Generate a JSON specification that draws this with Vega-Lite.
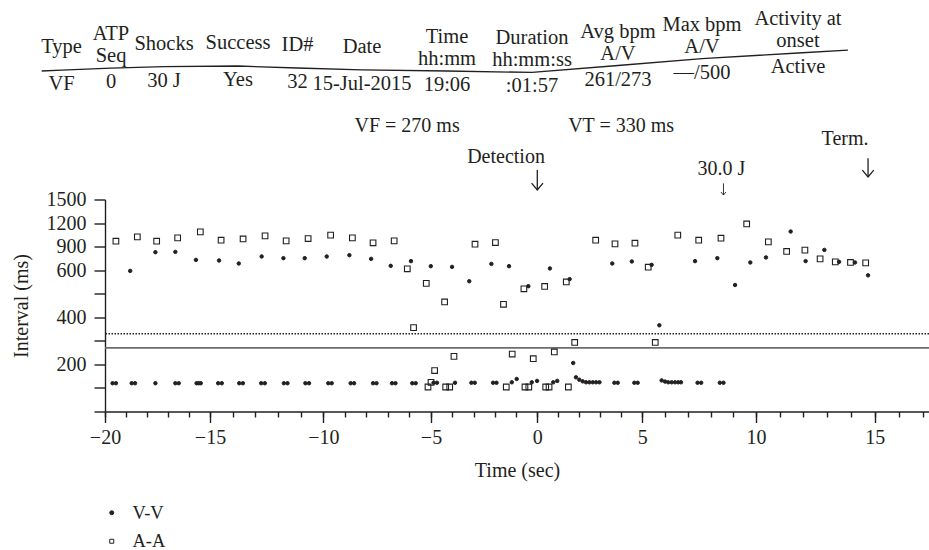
{
  "$schema": "https://vega.github.io/schema/vega-lite/v6.json",
  "width": 824,
  "height": 212,
  "autosize": {"type": "none"},
  "padding": {"left": 105, "top": 199.5, "right": 0, "bottom": 138.5},
  "background": "white",
  "datasets": {
    "intervals": [
      {"t": -19.48, "ms": 969, "series": "A-A"}, {"t": -18.46, "ms": 1024, "series": "A-A"}, {"t": -17.54, "ms": 969, "series": "A-A"},
      {"t": -16.54, "ms": 1011, "series": "A-A"}, {"t": -15.46, "ms": 1088, "series": "A-A"}, {"t": -14.51, "ms": 982, "series": "A-A"},
      {"t": -13.54, "ms": 998, "series": "A-A"}, {"t": -12.57, "ms": 1037, "series": "A-A"}, {"t": -11.64, "ms": 973, "series": "A-A"},
      {"t": -10.67, "ms": 1003, "series": "A-A"}, {"t": -9.66, "ms": 1046, "series": "A-A"}, {"t": -8.65, "ms": 1011, "series": "A-A"},
      {"t": -7.69, "ms": 948, "series": "A-A"}, {"t": -6.71, "ms": 973, "series": "A-A"}, {"t": -6.10, "ms": 617, "series": "A-A"},
      {"t": -5.81, "ms": 356, "series": "A-A"}, {"t": -5.22, "ms": 544, "series": "A-A"}, {"t": -4.36, "ms": 465, "series": "A-A"},
      {"t": -2.93, "ms": 931, "series": "A-A"}, {"t": -1.97, "ms": 952, "series": "A-A"}, {"t": -1.59, "ms": 455, "series": "A-A"},
      {"t": -0.63, "ms": 521, "series": "A-A"}, {"t": 0.35, "ms": 531, "series": "A-A"}, {"t": 1.38, "ms": 550, "series": "A-A"},
      {"t": 2.78, "ms": 982, "series": "A-A"}, {"t": 3.70, "ms": 935, "series": "A-A"}, {"t": 4.65, "ms": 944, "series": "A-A"},
      {"t": 5.26, "ms": 638, "series": "A-A"}, {"t": 5.57, "ms": 293, "series": "A-A"}, {"t": 6.56, "ms": 1046, "series": "A-A"},
      {"t": 7.48, "ms": 982, "series": "A-A"}, {"t": 8.46, "ms": 1007, "series": "A-A"}, {"t": 9.59, "ms": 1189, "series": "A-A"},
      {"t": 10.52, "ms": 960, "series": "A-A"}, {"t": 11.29, "ms": 838, "series": "A-A"}, {"t": 12.06, "ms": 855, "series": "A-A"},
      {"t": 12.70, "ms": 744, "series": "A-A"}, {"t": 13.34, "ms": 706, "series": "A-A"}, {"t": 13.98, "ms": 698, "series": "A-A"},
      {"t": 14.62, "ms": 693, "series": "A-A"},
      {"t": -5.14, "ms": 104, "series": "A-A"}, {"t": -5.00, "ms": 124, "series": "A-A"}, {"t": -4.83, "ms": 174, "series": "A-A"},
      {"t": -4.31, "ms": 104, "series": "A-A"}, {"t": -4.12, "ms": 104, "series": "A-A"}, {"t": -3.92, "ms": 234, "series": "A-A"},
      {"t": -1.46, "ms": 104, "series": "A-A"}, {"t": -1.18, "ms": 244, "series": "A-A"}, {"t": -0.58, "ms": 104, "series": "A-A"},
      {"t": -0.40, "ms": 104, "series": "A-A"}, {"t": -0.19, "ms": 224, "series": "A-A"}, {"t": 0.40, "ms": 104, "series": "A-A"},
      {"t": 0.56, "ms": 104, "series": "A-A"}, {"t": 0.81, "ms": 253, "series": "A-A"}, {"t": 1.48, "ms": 104, "series": "A-A"},
      {"t": 1.78, "ms": 293, "series": "A-A"},
      {"t": -18.80, "ms": 597, "series": "V-V"}, {"t": -17.60, "ms": 829, "series": "V-V"}, {"t": -16.65, "ms": 833, "series": "V-V"},
      {"t": -15.67, "ms": 731, "series": "V-V"}, {"t": -14.60, "ms": 723, "series": "V-V"}, {"t": -13.73, "ms": 685, "series": "V-V"},
      {"t": -12.72, "ms": 774, "series": "V-V"}, {"t": -11.76, "ms": 753, "series": "V-V"}, {"t": -10.82, "ms": 753, "series": "V-V"},
      {"t": -9.84, "ms": 774, "series": "V-V"}, {"t": -8.79, "ms": 791, "series": "V-V"}, {"t": -7.78, "ms": 744, "series": "V-V"},
      {"t": -6.87, "ms": 655, "series": "V-V"}, {"t": -5.93, "ms": 715, "series": "V-V"}, {"t": -5.01, "ms": 651, "series": "V-V"},
      {"t": -4.01, "ms": 642, "series": "V-V"}, {"t": -3.20, "ms": 553, "series": "V-V"}, {"t": -2.16, "ms": 680, "series": "V-V"},
      {"t": -1.33, "ms": 651, "series": "V-V"}, {"t": -0.42, "ms": 532, "series": "V-V"}, {"t": 0.60, "ms": 622, "series": "V-V"},
      {"t": 1.54, "ms": 562, "series": "V-V"}, {"t": 1.71, "ms": 206, "series": "V-V"}, {"t": 3.57, "ms": 685, "series": "V-V"},
      {"t": 4.50, "ms": 711, "series": "V-V"}, {"t": 5.41, "ms": 668, "series": "V-V"}, {"t": 5.75, "ms": 366, "series": "V-V"},
      {"t": 7.32, "ms": 715, "series": "V-V"}, {"t": 8.30, "ms": 753, "series": "V-V"}, {"t": 9.08, "ms": 537, "series": "V-V"},
      {"t": 9.75, "ms": 698, "series": "V-V"}, {"t": 10.42, "ms": 762, "series": "V-V"}, {"t": 11.46, "ms": 1092, "series": "V-V"},
      {"t": 12.09, "ms": 715, "series": "V-V"}, {"t": 12.88, "ms": 858, "series": "V-V"}, {"t": 13.50, "ms": 706, "series": "V-V"},
      {"t": 14.17, "ms": 698, "series": "V-V"}, {"t": 14.72, "ms": 578, "series": "V-V"},
      {"t": -19.64, "ms": 120, "series": "V-V"}, {"t": -19.48, "ms": 120, "series": "V-V"},
      {"t": -18.73, "ms": 120, "series": "V-V"}, {"t": -18.57, "ms": 120, "series": "V-V"},
      {"t": -17.60, "ms": 120, "series": "V-V"},
      {"t": -16.65, "ms": 120, "series": "V-V"}, {"t": -16.49, "ms": 120, "series": "V-V"},
      {"t": -15.64, "ms": 120, "series": "V-V"}, {"t": -15.54, "ms": 120, "series": "V-V"}, {"t": -15.44, "ms": 120, "series": "V-V"},
      {"t": -14.64, "ms": 120, "series": "V-V"}, {"t": -14.48, "ms": 120, "series": "V-V"},
      {"t": -13.71, "ms": 120, "series": "V-V"}, {"t": -13.55, "ms": 120, "series": "V-V"},
      {"t": -12.74, "ms": 120, "series": "V-V"}, {"t": -12.58, "ms": 120, "series": "V-V"},
      {"t": -11.74, "ms": 120, "series": "V-V"}, {"t": -11.58, "ms": 120, "series": "V-V"},
      {"t": -10.79, "ms": 120, "series": "V-V"}, {"t": -10.63, "ms": 120, "series": "V-V"},
      {"t": -9.77, "ms": 120, "series": "V-V"}, {"t": -9.61, "ms": 120, "series": "V-V"},
      {"t": -8.73, "ms": 120, "series": "V-V"}, {"t": -8.57, "ms": 120, "series": "V-V"},
      {"t": -7.69, "ms": 120, "series": "V-V"}, {"t": -7.53, "ms": 120, "series": "V-V"},
      {"t": -6.81, "ms": 120, "series": "V-V"}, {"t": -6.65, "ms": 120, "series": "V-V"},
      {"t": -5.87, "ms": 120, "series": "V-V"}, {"t": -5.71, "ms": 120, "series": "V-V"},
      {"t": -4.88, "ms": 122, "series": "V-V"}, {"t": -4.72, "ms": 122, "series": "V-V"},
      {"t": -3.87, "ms": 122, "series": "V-V"},
      {"t": -3.10, "ms": 122, "series": "V-V"}, {"t": -2.94, "ms": 122, "series": "V-V"},
      {"t": -2.08, "ms": 122, "series": "V-V"}, {"t": -1.92, "ms": 122, "series": "V-V"},
      {"t": -1.20, "ms": 124, "series": "V-V"}, {"t": -0.97, "ms": 138, "series": "V-V"},
      {"t": -0.26, "ms": 124, "series": "V-V"}, {"t": -0.01, "ms": 130, "series": "V-V"},
      {"t": 0.76, "ms": 124, "series": "V-V"}, {"t": 0.95, "ms": 130, "series": "V-V"},
      {"t": 1.84, "ms": 145, "series": "V-V"}, {"t": 2.00, "ms": 135, "series": "V-V"}, {"t": 2.16, "ms": 128, "series": "V-V"},
      {"t": 2.32, "ms": 124, "series": "V-V"}, {"t": 2.48, "ms": 124, "series": "V-V"}, {"t": 2.64, "ms": 124, "series": "V-V"},
      {"t": 2.80, "ms": 124, "series": "V-V"}, {"t": 2.96, "ms": 124, "series": "V-V"},
      {"t": 3.67, "ms": 122, "series": "V-V"}, {"t": 3.83, "ms": 122, "series": "V-V"},
      {"t": 4.62, "ms": 122, "series": "V-V"}, {"t": 4.78, "ms": 122, "series": "V-V"},
      {"t": 5.85, "ms": 132, "series": "V-V"}, {"t": 6.00, "ms": 127, "series": "V-V"}, {"t": 6.14, "ms": 124, "series": "V-V"},
      {"t": 6.29, "ms": 124, "series": "V-V"}, {"t": 6.44, "ms": 124, "series": "V-V"}, {"t": 6.58, "ms": 124, "series": "V-V"},
      {"t": 6.70, "ms": 124, "series": "V-V"},
      {"t": 7.43, "ms": 122, "series": "V-V"}, {"t": 7.59, "ms": 122, "series": "V-V"},
      {"t": 8.41, "ms": 122, "series": "V-V"}, {"t": 8.57, "ms": 122, "series": "V-V"}
    ],
    "thresholds": [
      {"zone": "VF", "ms": 270},
      {"zone": "VT", "ms": 330}
    ],
    "notes": [
      {"label": "VF = 270 ms", "t": -6.11, "level": 2363},
      {"label": "VT = 330 ms", "t": 3.99, "level": 2363},
      {"label": "Detection", "t": -1.47, "level": 1969},
      {"label": "30.0 J", "t": 8.48, "level": 1812},
      {"label": "Term.", "t": 13.75, "level": 2194}
    ],
    "arrows": [
      {"event": "Detection", "t": 0, "top": 1876, "tip": 1621},
      {"event": "30.0 J", "t": 8.57, "top": 1706, "tip": 1557},
      {"event": "Term.", "t": 14.72, "top": 2025, "tip": 1787}
    ],
    "header": [
      {"col": 0, "part": "single", "text": "Type"}, {"col": 0, "part": "value", "text": "VF"},
      {"col": 1, "part": "upper", "text": "ATP"}, {"col": 1, "part": "lower", "text": "Seq"}, {"col": 1, "part": "value", "text": "0"},
      {"col": 2, "part": "single", "text": "Shocks"}, {"col": 2, "part": "value", "text": "30 J"},
      {"col": 3, "part": "single", "text": "Success"}, {"col": 3, "part": "value", "text": "Yes"},
      {"col": 4, "part": "single", "text": "ID#"}, {"col": 4, "part": "value", "text": "32"},
      {"col": 5, "part": "single", "text": "Date"}, {"col": 5, "part": "value", "text": "15-Jul-2015"},
      {"col": 6, "part": "upper", "text": "Time"}, {"col": 6, "part": "lower", "text": "hh:mm"}, {"col": 6, "part": "value", "text": "19:06"},
      {"col": 7, "part": "upper", "text": "Duration"}, {"col": 7, "part": "lower", "text": "hh:mm:ss"}, {"col": 7, "part": "value", "text": ":01:57"},
      {"col": 8, "part": "upper", "text": "Avg bpm"}, {"col": 8, "part": "lower", "text": "A/V"}, {"col": 8, "part": "value", "text": "261/273"},
      {"col": 9, "part": "upper", "text": "Max bpm"}, {"col": 9, "part": "lower", "text": "A/V"}, {"col": 9, "part": "value", "text": "—/500"},
      {"col": 10, "part": "upper", "text": "Activity at"}, {"col": 10, "part": "lower", "text": "onset"}, {"col": 10, "part": "value", "text": "Active"}
    ],
    "separator": [
      {"col": -0.4}, {"col": 0}, {"col": 1}, {"col": 2}, {"col": 3}, {"col": 4}, {"col": 5},
      {"col": 6}, {"col": 7}, {"col": 8}, {"col": 9}, {"col": 10}, {"col": 10.52}
    ]
  },
  "layer": [
    {
      "layer": [
        {
          "data": {"name": "thresholds"},
          "transform": [{"filter": "datum.zone == 'VF'"}],
          "mark": {"type": "rule", "color": "#6d6d6d", "strokeWidth": 1.8},
          "encoding": {
            "y": {"field": "ms", "type": "quantitative", "axis": null,
                  "scale": {"domain": [0, 600, 1500], "range": [212, 70.67, 0], "nice": false, "zero": false}}
          }
        },
        {
          "data": {"name": "thresholds"},
          "transform": [{"filter": "datum.zone == 'VT'"}],
          "mark": {"type": "rule", "color": "#231f20", "strokeWidth": 1.3, "strokeDash": [1.5, 1.5]},
          "encoding": {
            "y": {"field": "ms", "type": "quantitative", "axis": null,
                  "scale": {"domain": [0, 600, 1500], "range": [212, 70.67, 0], "nice": false, "zero": false}}
          }
        },
        {
          "data": {"name": "intervals"},
          "transform": [{"filter": "datum.series == 'A-A'"}],
          "mark": {"type": "point", "filled": true, "size": 32, "strokeWidth": 1.1, "opacity": 1},
          "encoding": {
            "x": {"field": "t", "type": "quantitative",
                  "scale": {"domain": [-20, -15, -10, -5, 0, 5, 10, 15, 17.25], "range": [0, 105, 218.3, 326, 432.3, 537.3, 651, 769.7, 824], "nice": false, "zero": false},
                  "axis": {"orient": "bottom", "values": [-20, -15, -10, -5, 0, 5, 10, 15], "tickSize": 11, "labelPadding": 5, "format": "d", "title": "Time (sec)", "titlePadding": 13}},
            "y": {"field": "ms", "type": "quantitative",
                  "scale": {"domain": [0, 600, 1500], "range": [212, 70.67, 0], "nice": false, "zero": false},
                  "axis": {"orient": "left", "values": [0, 100, 200, 300, 400, 500, 600, 900, 1200, 1500], "tickSize": 11, "labelPadding": 8, "format": "d",
                           "labelExpr": "datum.value == 200 || datum.value == 400 || datum.value >= 600 ? datum.label : ''",
                           "title": "Interval (ms)", "titlePadding": 15}},
            "shape": {"field": "series", "type": "nominal", "title": null, "scale": {"domain": ["V-V", "A-A"], "range": ["circle", "square"]}},
            "fill": {"field": "series", "type": "nominal", "title": null, "scale": {"domain": ["V-V", "A-A"], "range": ["#231f20", "transparent"]}},
            "stroke": {"field": "series", "type": "nominal", "title": null, "scale": {"domain": ["V-V", "A-A"], "range": ["#231f20", "#231f20"]}}
          }
        },
        {
          "data": {"name": "intervals"},
          "transform": [{"filter": "datum.series == 'V-V'"}],
          "mark": {"type": "point", "filled": true, "size": 12, "strokeWidth": 1, "opacity": 1},
          "encoding": {
            "x": {"field": "t", "type": "quantitative",
                  "scale": {"domain": [-20, -15, -10, -5, 0, 5, 10, 15, 17.25], "range": [0, 105, 218.3, 326, 432.3, 537.3, 651, 769.7, 824], "nice": false, "zero": false},
                  "axis": {"orient": "bottom", "values": [-20, -19, -18, -17, -16, -15, -14, -13, -12, -11, -10, -9, -8, -7, -6, -5, -4, -3, -2, -1, 0, 1, 2, 3, 4, 5, 6, 7, 8, 9, 10, 11, 12, 13, 14, 15, 16, 17],
                           "tickSize": 5.5, "labels": false, "domain": false, "title": null}},
            "y": {"field": "ms", "type": "quantitative", "axis": null,
                  "scale": {"domain": [0, 600, 1500], "range": [212, 70.67, 0], "nice": false, "zero": false}},
            "shape": {"field": "series", "type": "nominal", "title": null, "scale": {"domain": ["V-V", "A-A"], "range": ["circle", "square"]}},
            "fill": {"field": "series", "type": "nominal", "title": null, "scale": {"domain": ["V-V", "A-A"], "range": ["#231f20", "transparent"]}},
            "stroke": {"field": "series", "type": "nominal", "title": null, "scale": {"domain": ["V-V", "A-A"], "range": ["#231f20", "#231f20"]}}
          }
        },
        {
          "data": {"name": "notes"},
          "mark": {"type": "text", "fontSize": 20, "baseline": "alphabetic", "align": "center", "color": "#231f20"},
          "encoding": {
            "x": {"field": "t", "type": "quantitative", "axis": null,
                  "scale": {"domain": [-20, -15, -10, -5, 0, 5, 10, 15, 17.25], "range": [0, 105, 218.3, 326, 432.3, 537.3, 651, 769.7, 824], "nice": false, "zero": false}},
            "y": {"field": "level", "type": "quantitative", "axis": null,
                  "scale": {"domain": [0, 600, 1500], "range": [212, 70.67, 0], "nice": false, "zero": false}},
            "text": {"field": "label"}
          }
        },
        {
          "data": {"name": "arrows"},
          "transform": [{"filter": "datum.event != '30.0 J'"}],
          "mark": {"type": "rule", "color": "#231f20", "strokeWidth": 1.3},
          "encoding": {
            "x": {"field": "t", "type": "quantitative", "axis": null,
                  "scale": {"domain": [-20, -15, -10, -5, 0, 5, 10, 15, 17.25], "range": [0, 105, 218.3, 326, 432.3, 537.3, 651, 769.7, 824], "nice": false, "zero": false}},
            "y": {"field": "top", "type": "quantitative", "axis": null,
                  "scale": {"domain": [0, 600, 1500], "range": [212, 70.67, 0], "nice": false, "zero": false}},
            "y2": {"field": "tip"}
          }
        },
        {
          "data": {"name": "arrows"},
          "transform": [{"filter": "datum.event == '30.0 J'"}],
          "mark": {"type": "rule", "color": "#231f20", "strokeWidth": 0.9},
          "encoding": {
            "x": {"field": "t", "type": "quantitative", "axis": null,
                  "scale": {"domain": [-20, -15, -10, -5, 0, 5, 10, 15, 17.25], "range": [0, 105, 218.3, 326, 432.3, 537.3, 651, 769.7, 824], "nice": false, "zero": false}},
            "y": {"field": "top", "type": "quantitative", "axis": null,
                  "scale": {"domain": [0, 600, 1500], "range": [212, 70.67, 0], "nice": false, "zero": false}},
            "y2": {"field": "tip"}
          }
        },
        {
          "data": {"name": "arrows"},
          "transform": [{"filter": "datum.event != '30.0 J'"}],
          "mark": {"type": "point", "shape": "M-1,-1.2L0,0L1,-1.2", "size": 130, "filled": false, "stroke": "#231f20", "strokeWidth": 1.3, "opacity": 1},
          "encoding": {
            "x": {"field": "t", "type": "quantitative", "axis": null,
                  "scale": {"domain": [-20, -15, -10, -5, 0, 5, 10, 15, 17.25], "range": [0, 105, 218.3, 326, 432.3, 537.3, 651, 769.7, 824], "nice": false, "zero": false}},
            "y": {"field": "tip", "type": "quantitative", "axis": null,
                  "scale": {"domain": [0, 600, 1500], "range": [212, 70.67, 0], "nice": false, "zero": false}}
          }
        },
        {
          "data": {"name": "arrows"},
          "transform": [{"filter": "datum.event == '30.0 J'"}],
          "mark": {"type": "point", "shape": "M-1,-1.2L0,0L1,-1.2", "size": 25, "filled": false, "stroke": "#231f20", "strokeWidth": 0.9, "opacity": 1},
          "encoding": {
            "x": {"field": "t", "type": "quantitative", "axis": null,
                  "scale": {"domain": [-20, -15, -10, -5, 0, 5, 10, 15, 17.25], "range": [0, 105, 218.3, 326, 432.3, 537.3, 651, 769.7, 824], "nice": false, "zero": false}},
            "y": {"field": "tip", "type": "quantitative", "axis": null,
                  "scale": {"domain": [0, 600, 1500], "range": [212, 70.67, 0], "nice": false, "zero": false}}
          }
        }
      ],
      "resolve": {"axis": {"x": "independent", "y": "independent"}}
    },
    {
      "layer": [
        {
          "data": {"name": "separator"},
          "mark": {"type": "line", "color": "#231f20", "strokeWidth": 1.3},
          "encoding": {
            "x": {"field": "col", "type": "quantitative", "axis": null,
                  "scale": {"domain": [0, 1, 2, 3, 4, 5, 6, 7, 8, 9, 10], "range": [-43.5, 6, 59, 133, 192.5, 257, 342, 427, 513, 597, 693], "nice": false, "zero": false}},
            "y": {"field": "col", "type": "quantitative", "axis": null,
                  "scale": {"domain": [0, 1, 2, 3, 4, 5, 6, 7, 8, 9, 10], "range": [-129.3, -131.3, -132.9, -133.5, -131.5, -129.7, -128.5, -127.1, -134, -140.9, -146.5], "nice": false, "zero": false}}
          }
        },
        {
          "data": {"name": "header"},
          "transform": [{"filter": "datum.part == 'upper'"}],
          "mark": {"type": "text", "baseline": "alphabetic", "align": "center", "dy": -28, "fontSize": 20.5, "color": "#231f20"},
          "encoding": {
            "x": {"field": "col", "type": "quantitative", "axis": null,
                  "scale": {"domain": [0, 1, 2, 3, 4, 5, 6, 7, 8, 9, 10], "range": [-43.5, 6, 59, 133, 192.5, 257, 342, 427, 513, 597, 693], "nice": false, "zero": false}},
            "y": {"field": "col", "type": "quantitative", "axis": null,
                  "scale": {"domain": [0, 1, 2, 3, 4, 5, 6, 7, 8, 9, 10], "range": [-129.3, -131.3, -132.9, -133.5, -131.5, -129.7, -128.5, -127.1, -134, -140.9, -146.5], "nice": false, "zero": false}},
            "text": {"field": "text"}
          }
        },
        {
          "data": {"name": "header"},
          "transform": [{"filter": "datum.part == 'lower'"}],
          "mark": {"type": "text", "baseline": "alphabetic", "align": "center", "dy": -6, "fontSize": 20.5, "color": "#231f20"},
          "encoding": {
            "x": {"field": "col", "type": "quantitative", "axis": null,
                  "scale": {"domain": [0, 1, 2, 3, 4, 5, 6, 7, 8, 9, 10], "range": [-43.5, 6, 59, 133, 192.5, 257, 342, 427, 513, 597, 693], "nice": false, "zero": false}},
            "y": {"field": "col", "type": "quantitative", "axis": null,
                  "scale": {"domain": [0, 1, 2, 3, 4, 5, 6, 7, 8, 9, 10], "range": [-129.3, -131.3, -132.9, -133.5, -131.5, -129.7, -128.5, -127.1, -134, -140.9, -146.5], "nice": false, "zero": false}},
            "text": {"field": "text"}
          }
        },
        {
          "data": {"name": "header"},
          "transform": [{"filter": "datum.part == 'single'"}],
          "mark": {"type": "text", "baseline": "alphabetic", "align": "center", "dy": -17, "fontSize": 20.5, "color": "#231f20"},
          "encoding": {
            "x": {"field": "col", "type": "quantitative", "axis": null,
                  "scale": {"domain": [0, 1, 2, 3, 4, 5, 6, 7, 8, 9, 10], "range": [-43.5, 6, 59, 133, 192.5, 257, 342, 427, 513, 597, 693], "nice": false, "zero": false}},
            "y": {"field": "col", "type": "quantitative", "axis": null,
                  "scale": {"domain": [0, 1, 2, 3, 4, 5, 6, 7, 8, 9, 10], "range": [-129.3, -131.3, -132.9, -133.5, -131.5, -129.7, -128.5, -127.1, -134, -140.9, -146.5], "nice": false, "zero": false}},
            "text": {"field": "text"}
          }
        },
        {
          "data": {"name": "header"},
          "transform": [{"filter": "datum.part == 'value'"}],
          "mark": {"type": "text", "baseline": "alphabetic", "align": "center", "dy": 20, "fontSize": 20.5, "color": "#231f20"},
          "encoding": {
            "x": {"field": "col", "type": "quantitative", "axis": null,
                  "scale": {"domain": [0, 1, 2, 3, 4, 5, 6, 7, 8, 9, 10], "range": [-43.5, 6, 59, 133, 192.5, 257, 342, 427, 513, 597, 693], "nice": false, "zero": false}},
            "y": {"field": "col", "type": "quantitative", "axis": null,
                  "scale": {"domain": [0, 1, 2, 3, 4, 5, 6, 7, 8, 9, 10], "range": [-129.3, -131.3, -132.9, -133.5, -131.5, -129.7, -128.5, -127.1, -134, -140.9, -146.5], "nice": false, "zero": false}},
            "text": {"field": "text"}
          }
        }
      ]
    }
  ],
  "resolve": {"scale": {"x": "independent", "y": "independent"}},
  "config": {
    "font": "Liberation Serif",
    "view": {"stroke": null},
    "axis": {
      "grid": false,
      "domainColor": "#231f20", "domainWidth": 1.4,
      "tickColor": "#231f20", "tickWidth": 1.4,
      "labelColor": "#231f20", "titleColor": "#231f20",
      "labelFont": "Liberation Serif", "titleFont": "Liberation Serif",
      "labelFontSize": 20, "titleFontSize": 20, "titleFontWeight": "normal",
      "labelFlush": false, "labelOverlap": false
    },
    "legend": {
      "orient": "none", "legendX": -2.5, "legendY": 304, "direction": "vertical",
      "padding": 0, "labelFont": "Liberation Serif", "labelFontSize": 18.5, "labelColor": "#231f20",
      "symbolSize": 16, "symbolStrokeWidth": 1,
      "labelOffset": 11.5, "rowPadding": 9.5
    },
    "text": {"font": "Liberation Serif", "color": "#231f20"}
  }
}
